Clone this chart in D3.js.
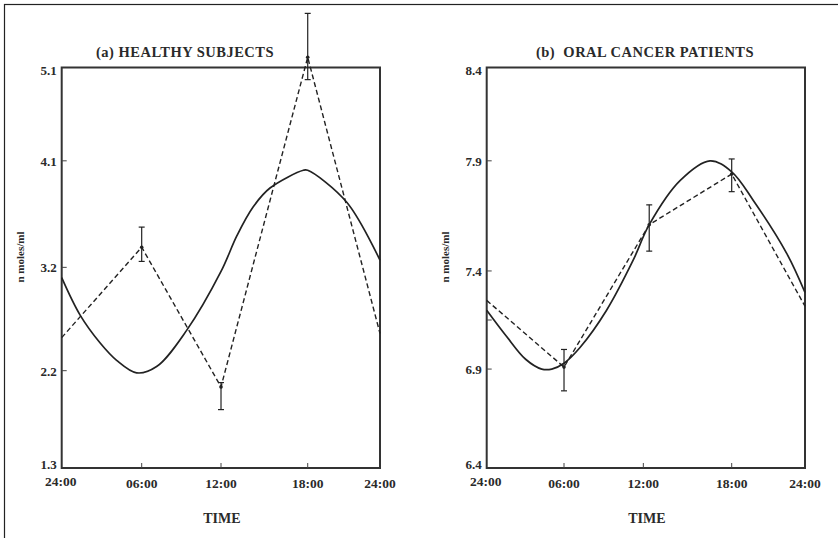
<!DOCTYPE html>
<html>
<head>
<meta charset="utf-8">
<script src="https://cdn.jsdelivr.net/npm/d3@7"></script>
<style>
  body { margin: 0; background: #fff; }
  text { font-family: "Liberation Serif", "DejaVu Serif", serif; fill: #2a2a2a; }
</style>
</head>
<body>
<div class="canvas"></div>
<script>
// ---- data ----
const timeLabels = ['24:00', '06:00', '12:00', '18:00', '24:00']
const tickHours = [0, 6, 12, 18, 24]

// (a) healthy subjects
const ticksA = [1.3, 2.2, 3.2, 4.1, 5.1]
const hoursA = [0, 6, 12, 18, 24]
const meanA = [2.52, 3.37, 2.05, 5.21, 2.56]
const upperA = [null, 3.54, 2.09, 5.68, null]
const lowerA = [null, 3.25, 1.84, 4.97, null]
const fitHoursA = [0, 1.37, 2.87, 4.12, 5.62, 7.13, 9.4, 12, 13.11, 14.22, 15.39, 17.7, 18, 21.24, 24]
const fitA = [3.1, 2.74, 2.47, 2.3, 2.18, 2.24, 2.59, 3.16, 3.47, 3.71, 3.87, 4.02, 4.02, 3.75, 3.26]

// (b) oral cancer patients
const ticksB = [6.4, 6.9, 7.4, 7.9, 8.4]
const minorB = [7.15]
const hoursB = [0, 6, 12.4, 18, 24]
const meanB = [7.25, 6.91, 7.61, 7.84, 7.22]
const upperB = [null, 7.0, 7.7, 7.91, null]
const lowerB = [null, 6.79, 7.49, 7.76, null]
const fitHoursB = [0, 1.5, 3.02, 4.27, 5.05, 6, 7.21, 9.22, 11.24, 12.4, 14.49, 16.53, 18, 19.77, 22.5, 24]
const fitB = [7.2, 7.07, 6.95, 6.9, 6.9, 6.93, 7.01, 7.2, 7.45, 7.61, 7.81, 7.9, 7.85, 7.72, 7.48, 7.29]

const svg = d3.select('.canvas')
  .append('svg')
  .attr('width', 838)
  .attr('height', 538)

// outer frame (runs off the right and bottom edges)
svg.append('rect')
  .attr('x', 4.5).attr('y', 4.5)
  .attr('width', 850).attr('height', 550)
  .attr('fill', 'none')
  .attr('stroke', '#222')
  .attr('stroke-width', 1.2)

function drawPanel(p) {
  const g = svg.append('g')
  const top = 67.5, bottom = 468

  // the original axes are not evenly spaced, so use piecewise scales
  const x = d3.scaleLinear()
    .domain(tickHours)
    .range(p.xFrac.map(f => p.left + f * (p.right - p.left)))
  const y = d3.scaleLinear()
    .domain(p.ticks)
    .range(p.yFrac.map(f => bottom - f * (bottom - top)))

  // frame
  g.append('rect')
    .attr('x', p.left).attr('y', top)
    .attr('width', p.right - p.left).attr('height', bottom - top)
    .attr('fill', 'none')
    .attr('stroke', '#333')
    .attr('stroke-width', 2)

  // y ticks and labels
  g.selectAll('.ytick')
    .data(p.ticks.slice(1, -1).concat(p.minor || []))
    .enter().append('line')
    .attr('x1', p.left).attr('x2', p.left + 5)
    .attr('y1', d => y(d)).attr('y2', d => y(d))
    .attr('stroke', '#444')
  g.selectAll('.ylab')
    .data(p.ticks)
    .enter().append('text')
    .attr('x', p.left - 5)
    .attr('y', (d, i) => y(d) + (i === p.ticks.length - 1 ? 7 : i === 0 ? 1 : 5))
    .attr('text-anchor', 'end')
    .style('font-size', '13px')
    .style('font-weight', 'bold')
    .text(d => d3.format('.1f')(d))

  // x ticks and labels
  g.selectAll('.xtick')
    .data(tickHours.slice(1, -1))
    .enter().append('line')
    .attr('x1', d => x(d)).attr('x2', d => x(d))
    .attr('y1', bottom).attr('y2', bottom - 5)
    .attr('stroke', '#444')
  g.selectAll('.xlab')
    .data(tickHours)
    .enter().append('text')
    .attr('x', (d, i) => x(d) - (i === 0 ? 1 : 0))
    .attr('y', (d, i) => i === 0 ? 486 : 488)
    .attr('text-anchor', 'middle')
    .style('font-size', '13.5px')
    .style('font-weight', 'bold')
    .text((d, i) => timeLabels[i])

  // titles
  g.append('text')
    .attr('x', p.titleX).attr('y', 57)
    .attr('text-anchor', 'middle')
    .style('font-size', '14.5px')
    .style('font-weight', 'bold')
    .style('letter-spacing', '0.5px')
    .style('white-space', 'pre')
    .text(p.title)
  g.append('text')
    .attr('x', (p.left + p.right) / 2 + 1).attr('y', 523)
    .attr('text-anchor', 'middle')
    .style('font-size', '14px')
    .style('font-weight', 'bold')
    .text('TIME')
  g.append('text')
    .attr('transform', `translate(${p.left - 38}, 257) rotate(-90)`)
    .attr('text-anchor', 'middle')
    .style('font-size', '11px')
    .style('font-weight', 'bold')
    .text('n moles/ml')

  // fitted cosine curve
  const fitPts = p.fitHours.map((h, i) => [h, p.fit[i]])
  g.append('path')
    .attr('d', d3.line()
      .x(d => x(d[0])).y(d => y(d[1]))
      .curve(d3.curveCatmullRom.alpha(0.5))(fitPts))
    .attr('fill', 'none')
    .attr('stroke', '#222')
    .attr('stroke-width', 1.7)

  // observed means, dashed
  const obs = p.hours.map((h, i) => ({ h, m: p.mean[i], hi: p.upper[i], lo: p.lower[i] }))
  g.append('path')
    .attr('d', d3.line().x(d => x(d.h)).y(d => y(d.m))(obs))
    .attr('fill', 'none')
    .attr('stroke', '#222')
    .attr('stroke-width', 1.4)
    .attr('stroke-dasharray', '5,3')

  // error bars
  const bars = g.selectAll('.err')
    .data(obs.filter(d => d.hi !== null))
    .enter().append('g')
  bars.append('line')
    .attr('x1', d => x(d.h)).attr('x2', d => x(d.h))
    .attr('y1', d => y(d.hi)).attr('y2', d => y(d.lo))
    .attr('stroke', '#222').attr('stroke-width', 1.2)
  bars.append('line')
    .attr('x1', d => x(d.h) - 3).attr('x2', d => x(d.h) + 3)
    .attr('y1', d => y(d.hi)).attr('y2', d => y(d.hi))
    .attr('stroke', '#222').attr('stroke-width', 1.2)
  bars.append('line')
    .attr('x1', d => x(d.h) - 3).attr('x2', d => x(d.h) + 3)
    .attr('y1', d => y(d.lo)).attr('y2', d => y(d.lo))
    .attr('stroke', '#222').attr('stroke-width', 1.2)
  bars.append('circle')
    .attr('cx', d => x(d.h)).attr('cy', d => y(d.m))
    .attr('r', 1.8)
    .attr('fill', '#222')
}

drawPanel({
  left: 61.7, right: 380, titleX: 185,
  title: '(a) HEALTHY SUBJECTS',
  xFrac: [0, 0.2513, 0.5005, 0.7729, 1],
  yFrac: [0, 0.243, 0.501, 0.767, 1],
  ticks: ticksA,
  hours: hoursA, mean: meanA, upper: upperA, lower: lowerA,
  fitHours: fitHoursA, fit: fitA
})

drawPanel({
  left: 486.7, right: 805, titleX: 645,
  title: '(b)  ORAL CANCER PATIENTS',
  xFrac: [0, 0.2429, 0.4921, 0.7697, 1],
  yFrac: [0, 0.247, 0.492, 0.767, 1],
  ticks: ticksB, minor: minorB,
  hours: hoursB, mean: meanB, upper: upperB, lower: lowerB,
  fitHours: fitHoursB, fit: fitB
})
</script>
</body>
</html>
